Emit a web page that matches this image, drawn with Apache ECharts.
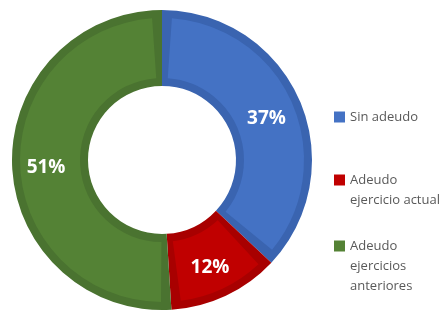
<!DOCTYPE html>
<html>
<head>
<meta charset="utf-8">
<script src="https://cdn.jsdelivr.net/npm/echarts@6/dist/echarts.min.js"></script>
<style>
  html, body { margin: 0; padding: 0; background: #fff; }
  #chart { width: 445px; height: 312px; }
</style>
</head>
<body>
<div id="chart"></div>
<script>
  // data
  const names = ['Sin adeudo', 'Adeudo ejercicio actual', 'Adeudo ejercicios anteriores'];
  const legendLines = [['Sin adeudo'], ['Adeudo', 'ejercicio actual'], ['Adeudo', 'ejercicios', 'anteriores']];
  const values = [37, 12, 51];

  const fillColors = ['#4472C4', '#C00000', '#548235'];
  const edgeColors = ['#3A64B0', '#A80000', '#4A7330'];

  const center = [162, 160];

  // legend text is centred on its marker, so pad with empty lines on top
  // to keep the marker level with the first line
  function legendLabel(lines) {
    const pad = new Array(lines.length - 1).fill('');
    return pad.concat(lines).join('\n');
  }

  const legendTops = [107, 150, 196];
  const legends = names.map((n, i) => ({
    data: [n],
    orient: 'vertical',
    left: 334,
    top: legendTops[i],
    padding: 0,
    icon: 'rect',
    itemWidth: 11,
    itemHeight: 11,
    selectedMode: false,
    formatter: () => legendLabel(legendLines[i]),
    textStyle: {
      fontFamily: 'Open Sans',
      fontSize: 13,
      lineHeight: 20,
      color: '#595959'
    }
  }));

  const chart = echarts.init(document.getElementById('chart'));
  chart.setOption({
    animation: false,
    legend: legends,
    series: [
      {
        // lighter inner part of every slice
        type: 'pie',
        z: 3,
        center: center,
        radius: [82, 142],
        startAngle: 90,
        padAngle: 8,
        silent: true,
        emphasis: { disabled: true },
        label: {
          show: true,
          position: 'inside',
          formatter: '{c}%',
          color: '#fff',
          fontFamily: 'Open Sans',
          fontWeight: 'bold',
          fontSize: 19,
          offset: [-1, 4]
        },
        labelLine: { show: false },
        data: names.map((n, i) => ({ name: n, value: values[i], itemStyle: { color: fillColors[i] } }))
      },
      {
        // darker edge under it
        type: 'pie',
        z: 2,
        center: center,
        radius: [74, 150],
        startAngle: 90,
        silent: true,
        emphasis: { disabled: true },
        label: { show: false },
        labelLine: { show: false },
        data: names.map((n, i) => ({ name: n, value: values[i], itemStyle: { color: edgeColors[i] } }))
      }
    ]
  });
</script>
</body>
</html>
